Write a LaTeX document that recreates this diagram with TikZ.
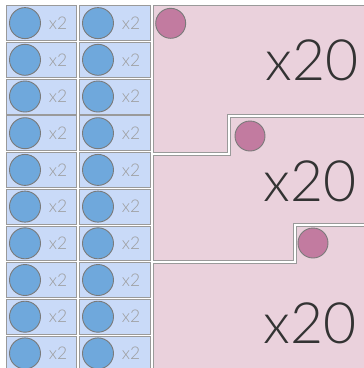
\documentclass[tikz,border=0pt]{standalone}
\usepackage{fontspec}
\newfontfamily\thinfont{Lato Light}
\definecolor{bluebox}{HTML}{C9DAF8}
\definecolor{bluedot}{HTML}{6FA8DC}
\definecolor{pinkarea}{HTML}{EAD1DC}
\definecolor{pinkdot}{HTML}{C27BA0}
\definecolor{edge}{HTML}{9A9A9A}
\definecolor{dotedge}{HTML}{7A7A7A}
\definecolor{lbl}{HTML}{9C9C9C}
\definecolor{big}{HTML}{333333}
\tikzset{
  cell/.style={draw=edge, line width=0.8pt, fill=bluebox, minimum width=70.5pt, minimum height=34.8pt, inner sep=0pt},
  bdot/.style={circle, draw=dotedge, line width=0.9pt, fill=bluedot, minimum size=31pt, inner sep=0pt},
  pdot/.style={circle, draw=dotedge, line width=0.9pt, fill=pinkdot, minimum size=30pt, inner sep=0pt},
  small/.style={text=lbl, font=\thinfont\fontsize{17.5}{17.5}\selectfont, inner sep=0pt},
  bigt/.style={text=big, font=\thinfont\fontsize{57}{57}\selectfont, inner sep=0pt},
  section/.style={draw=edge, line width=0.8pt, fill=pinkarea}
}
\begin{document}
\begin{tikzpicture}[x=1pt,y=-1pt]
\useasboundingbox (0,0) rectangle (364,368);
\fill[white] (0,0) rectangle (364,368);
% pink sections
\path[section] (153.5,5.5) -- (370,5.5) -- (370,114) -- (227,114) -- (227,152) -- (153.5,152) -- cycle;
\path[section] (153.5,155.5) -- (230.5,155.5) -- (230.5,117) -- (370,117) -- (370,223) -- (293,223) -- (293,260) -- (153.5,260) -- cycle;
\path[section] (153.5,263.5) -- (296.5,263.5) -- (296.5,226.5) -- (370,226.5) -- (370,375) -- (153.5,375) -- cycle;
% left cells
\foreach \i in {0,...,9} {
  \pgfmathsetmacro{\yc}{5.4+36.7*\i+17.7}
  \node[cell] (a\i) at (41.5,\yc) {};
  \node[cell] (b\i) at (115,\yc) {};
  \node[bdot] (ad\i) at (25,\yc) {};
  \node[bdot] (bd\i) at (98,\yc) {};
  \node[small] (at\i) at (58,\yc) {x2};
  \node[small] (bt\i) at (131,\yc) {x2};
}
% pink dots
\node[pdot] (p1) at (170.7,23.3) {};
\node[pdot] (p2) at (250,136) {};
\node[pdot] (p3) at (313,243) {};
% big labels
\node[bigt] (t1) at (312,60) {x20};
\node[bigt] (t2) at (310,181) {x20};
\node[bigt] (t3) at (310,323) {x20};
\end{tikzpicture}
\end{document}
